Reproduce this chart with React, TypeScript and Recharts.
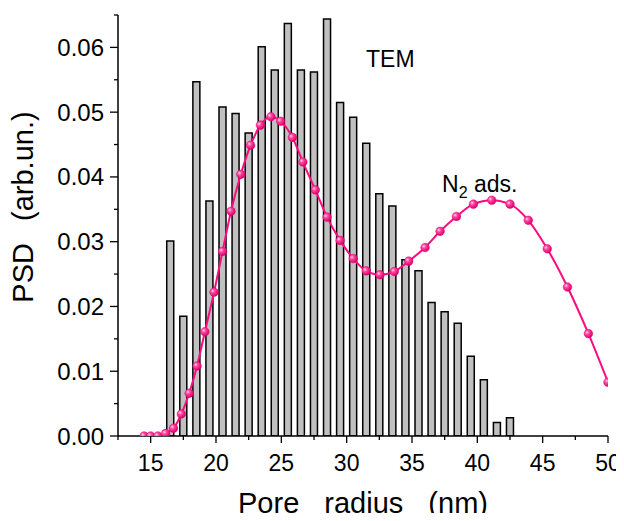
import React from 'react';
import { ComposedChart, Bar, Line, XAxis, YAxis } from 'recharts';

// TEM histogram (bin centres, nm) and PSD values
const temRadius = [16.5, 17.5, 18.5, 19.5, 20.5, 21.5, 22.5, 23.5, 24.5, 25.5, 26.5, 27.5, 28.5, 29.5, 30.5, 31.5, 32.5, 33.5, 34.5, 35.5, 36.5, 37.5, 38.5, 39.5, 40.5, 41.5, 42.5];
const temPsd = [0.0301, 0.0185, 0.0547, 0.0363, 0.0508, 0.0498, 0.0468, 0.0601, 0.0565, 0.0637, 0.0565, 0.0562, 0.0644, 0.0515, 0.0492, 0.0452, 0.0374, 0.0355, 0.0272, 0.0255, 0.0206, 0.0192, 0.0174, 0.0123, 0.0087, 0.0021, 0.0028];

// N2 adsorption PSD
const n2Radius = [14.5, 15.0, 15.55, 16.15, 16.75, 17.35, 17.95, 18.55, 19.15, 19.85, 20.5, 21.15, 21.9, 22.65, 23.4, 24.2, 24.95, 25.85, 26.65, 27.6, 28.5, 29.5, 30.5, 31.5, 32.55, 33.65, 34.75, 36.0, 37.15, 38.4, 39.7, 41.1, 42.5, 43.9, 45.35, 46.9, 48.5, 50.0];
const n2Psd = [0, 0, 0, 0.0004, 0.0012, 0.0034, 0.0066, 0.0108, 0.0161, 0.0222, 0.0285, 0.0347, 0.0404, 0.0449, 0.0480, 0.0493, 0.0486, 0.0461, 0.0423, 0.0380, 0.0338, 0.0302, 0.0274, 0.0255, 0.0249, 0.0254, 0.0270, 0.0291, 0.0316, 0.0339, 0.0358, 0.0364, 0.0358, 0.0333, 0.0289, 0.0230, 0.0158, 0.0083];

const xTicks = [12.5, 15, 17.5, 20, 22.5, 25, 27.5, 30, 32.5, 35, 37.5, 40, 42.5, 45, 47.5, 50];
const yTicks = [0, 0.005, 0.01, 0.015, 0.02, 0.025, 0.03, 0.035, 0.04, 0.045, 0.05, 0.055, 0.06, 0.065];

const xTitle = 'Pore radius (nm)';
const yTitle = 'PSD (arb.un.)';
const temLabel = 'TEM';

const temData = temRadius.map((x, i) => ({ x, psd: temPsd[i] }));
const n2Data = n2Radius.map((x, i) => ({ x, psd: n2Psd[i] }));

const FONT = 'Arial, "Liberation Sans", Helvetica, sans-serif';
const PINK = '#ff0a80';

const isMult = (v: number, step: number) => Math.abs(v / step - Math.round(v / step)) < 1e-6;

const XTick = (props: any) => {
  const { x, y, payload } = props;
  const v = payload.value as number;
  const major = isMult(v, 5);
  return (
    <g>
      <line x1={x} x2={x} y1={y} y2={y + (major ? 7 : 4)} stroke="#000" strokeWidth={1.3} />
      {major && (
        <text x={x} y={y + 19} dy="0.71em" textAnchor="middle" fontSize={23} fontFamily={FONT} fill="#000">
          {v}
        </text>
      )}
    </g>
  );
};

const YTick = (props: any) => {
  const { x, y, payload } = props;
  const v = payload.value as number;
  const major = isMult(v, 0.01);
  return (
    <g>
      <line x1={x} x2={x - (major ? 8 : 4)} y1={y} y2={y} stroke="#000" strokeWidth={1.3} />
      {major && (
        <text x={x - 14} y={y} dy="0.355em" textAnchor="end" fontSize={24} fontFamily={FONT} fill="#000">
          {v.toFixed(2)}
        </text>
      )}
    </g>
  );
};

const XTitle = (props: any) => {
  const vb = props.viewBox || {};
  return (
    <text x={vb.x + vb.width / 2} y={513} textAnchor="middle" fontSize={29} fontFamily={FONT} fill="#000" style={{ wordSpacing: '17px' }}>
      {xTitle}
    </text>
  );
};

const YTitle = () => {
  const cx = 33;
  const cy = 207;
  return (
    <text x={cx} y={cy} textAnchor="middle" fontSize={29} fontFamily={FONT} fill="#000" transform={`rotate(-90, ${cx}, ${cy})`} style={{ wordSpacing: '14px' }}>
      {yTitle}
    </text>
  );
};

export default function App() {
  return (
    <div style={{ margin: -8, width: 624, height: 521, background: '#fff' }}>
      <ComposedChart width={624} height={521} data={temData} margin={{ top: 15, right: 16, bottom: 0, left: 0 }}>
        <defs>
          <radialGradient id="n2ball" cx="35%" cy="35%" r="65%">
            <stop offset="0%" stopColor="#ffd6ea" />
            <stop offset="35%" stopColor="#ff4aa0" />
            <stop offset="100%" stopColor="#e0006c" />
          </radialGradient>
        </defs>
        <XAxis
          xAxisId="main"
          type="number"
          dataKey="x"
          domain={[12.5, 50]}
          allowDataOverflow
          ticks={xTicks}
          interval={0}
          tickSize={0}
          tickMargin={0}
          tickLine={false}
          tick={<XTick />}
          axisLine={{ stroke: '#000', strokeWidth: 1.5 }}
          height={85}
          label={<XTitle />}
        />
        <XAxis xAxisId="bars" type="number" dataKey="x" domain={[12.5, 50]} allowDataOverflow hide height={0} />
        <YAxis
          type="number"
          domain={[0, 0.065]}
          allowDataOverflow
          ticks={yTicks}
          interval={0}
          tickSize={0}
          tickMargin={0}
          tickLine={false}
          tick={<YTick />}
          axisLine={{ stroke: '#000', strokeWidth: 1.5 }}
          width={118}
          label={<YTitle />}
        />
        <Bar
          xAxisId="bars"
          dataKey="psd"
          barSize={7}
          fill="#c0c0c0"
          stroke="#000"
          strokeWidth={1.5}
          isAnimationActive={false}
        />
        <Line
          xAxisId="main"
          data={n2Data}
          dataKey="psd"
          type="monotone"
          stroke={PINK}
          strokeWidth={2}
          dot={{ r: 4.3, fill: 'url(#n2ball)', stroke: '#e0006c', strokeWidth: 0.5 }}
          isAnimationActive={false}
        />
        <text x={366} y={67} fontSize={23} fontFamily={FONT} fill="#000">{temLabel}</text>
        <text x={442} y={192} fontSize={23} fontFamily={FONT} fill="#000">
          N<tspan fontSize={16} dy={6}>2</tspan><tspan dy={-6}> ads.</tspan>
        </text>
      </ComposedChart>
    </div>
  );
}
